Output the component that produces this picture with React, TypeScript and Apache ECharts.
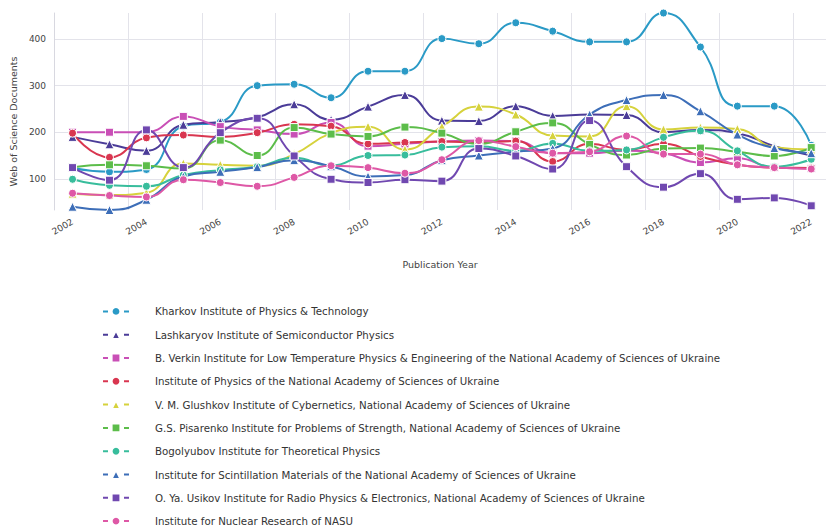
import React, { useEffect, useRef } from 'react';
import * as echarts from 'echarts';

const years = [2002, 2003, 2004, 2005, 2006, 2007, 2008, 2009, 2010, 2011, 2012, 2013, 2014, 2015, 2016, 2017, 2018, 2019, 2020, 2021, 2022];
const yearLabels = [2002, 2004, 2006, 2008, 2010, 2012, 2014, 2016, 2018, 2020, 2022];
const xGridValues = [2001.5, 2003.5, 2005.5, 2007.5, 2009.5, 2011.5, 2013.5, 2015.5, 2017.5, 2019.5, 2021.5];
const yTicks = [100, 200, 300, 400];

const kharkov = [123, 115, 120, 213, 222, 300, 303, 274, 331, 331, 401, 390, 435, 417, 394, 394, 456, 383, 256, 256, 172];
const lashkaryov = [190, 174, 160, 216, 222, 232, 260, 227, 255, 280, 225, 224, 256, 235, 238, 237, 200, 205, 198, 170, 150];
const verkin = [200, 200, 200, 234, 212, 205, 196, 221, 170, 175, 180, 182, 181, 155, 155, 160, 155, 135, 144, 124, 122];
const physics = [198, 146, 188, 194, 190, 199, 217, 213, 175, 178, 180, 178, 181, 137, 175, 162, 175, 148, 130, 124, 123];
const glushkov = [68, 65, 70, 133, 130, 128, 153, 198, 212, 163, 212, 255, 238, 193, 191, 256, 206, 210, 207, 168, 163];
const pisarenko = [125, 130, 128, 122, 183, 150, 210, 196, 191, 211, 198, 175, 201, 220, 174, 151, 165, 166, 158, 149, 167];
const bogolyubov = [99, 86, 84, 108, 119, 126, 145, 128, 150, 151, 168, 170, 160, 176, 160, 162, 189, 203, 160, 126, 142];
const scintillation = [40, 33, 55, 105, 115, 125, 140, 127, 105, 108, 140, 150, 158, 165, 238, 269, 280, 245, 195, 166, 155];
const usikov = [124, 97, 205, 124, 199, 230, 149, 99, 92, 98, 95, 165, 149, 121, 225, 126, 82, 111, 56, 59, 42];
const nuclear = [69, 64, 61, 98, 92, 84, 103, 128, 124, 112, 141, 182, 169, 155, 158, 192, 153, 153, 130, 124, 121];

const seriesNames = [
  'Kharkov Institute of Physics & Technology',
  'Lashkaryov Institute of Semiconductor Physics',
  'B. Verkin Institute for Low Temperature Physics & Engineering of the National Academy of Sciences of Ukraine',
  'Institute of Physics of the National Academy of Sciences of Ukraine',
  'V. M. Glushkov Institute of Cybernetics, National Academy of Sciences of Ukraine',
  'G.S. Pisarenko Institute for Problems of Strength, National Academy of Sciences of Ukraine',
  'Bogolyubov Institute for Theoretical Physics',
  'Institute for Scintillation Materials of the National Academy of Sciences of Ukraine',
  'O. Ya. Usikov Institute for Radio Physics & Electronics, National Academy of Sciences of Ukraine',
  'Institute for Nuclear Research of NASU',
];
const seriesValues = [kharkov, lashkaryov, verkin, physics, glushkov, pisarenko, bogolyubov, scintillation, usikov, nuclear];
const seriesColors = ['#2a9ac6', '#4b3c98', '#c94fb6', '#d93650', '#d6d23c', '#5cbd4a', '#38bd9c', '#3d6eb8', '#7048b0', '#de58a6'];
const seriesSymbols = ['circle', 'triangle', 'rect', 'circle', 'triangle', 'rect', 'circle', 'triangle', 'rect', 'circle'];

const FONT = '"DejaVu Sans", Verdana, sans-serif';

export default function App() {
  const ref = useRef<HTMLDivElement>(null);
  useEffect(() => {
    document.body.style.margin = '0';
    if (!ref.current) return;
    const chart = echarts.init(ref.current, undefined, { renderer: 'svg' });
    const series = seriesNames.map((name, i) => ({
      name,
      type: 'line',
      smooth: 0.5,
      symbol: seriesSymbols[i],
      symbolSize: seriesSymbols[i] === 'triangle' ? 9 : 8,
      data: years.map((y, j) => [y, seriesValues[i][j]]),
      lineStyle: { width: 2, color: seriesColors[i] },
      itemStyle: { color: seriesColors[i], borderColor: '#ffffff', borderWidth: 1 },
      emphasis: { disabled: true },
    }));
    chart.setOption({
      animation: false,
      textStyle: { fontFamily: FONT },
      grid: { left: 53, top: 13, width: 773, height: 197, containLabel: false },
      xAxis: {
        type: 'value',
        min: 2001.5,
        max: 2022.4,
        name: 'Publication Year',
        nameLocation: 'middle',
        nameGap: 49,
        nameTextStyle: { fontSize: 9.5, color: '#444', fontFamily: FONT },
        axisLine: { show: false },
        axisTick: { show: false, customValues: xGridValues },
        axisLabel: {
          customValues: yearLabels,
          rotate: 30,
          fontSize: 9,
          color: '#444',
          margin: 11,
          fontFamily: FONT,
          formatter: (v: number) => String(v),
        },
        splitLine: { show: true, lineStyle: { color: '#e3e3ea', width: 1 } },
      },
      yAxis: {
        type: 'value',
        min: 33,
        max: 456,
        name: 'Web of Science Documents',
        nameLocation: 'middle',
        nameGap: 34,
        nameTextStyle: { fontSize: 9.5, color: '#444', fontFamily: FONT, padding: [0, 20, 0, 0] },
        axisLine: { show: true, lineStyle: { color: '#d8d8e0' } },
        axisTick: { show: false, customValues: yTicks },
        axisLabel: { customValues: yTicks, fontSize: 9, color: '#444', margin: 8, fontFamily: FONT },
        splitLine: { show: true, lineStyle: { color: '#e3e3ea', width: 1 } },
      },
      legend: {
        orient: 'vertical',
        left: 102,
        top: 306,
        height: 260,
        padding: 0,
        itemWidth: 26,
        itemHeight: 11,
        itemGap: 12.5,
        lineStyle: { type: [5, 16], width: 2 },
        textStyle: { fontSize: 10.25, color: '#333', fontFamily: FONT, padding: [0, 0, 0, 21] },
        selectedMode: false,
        data: seriesNames,
      },
      series,
    });
    return () => chart.dispose();
  }, []);
  return <div ref={ref} style={{ width: 826, height: 530 }} />;
}
